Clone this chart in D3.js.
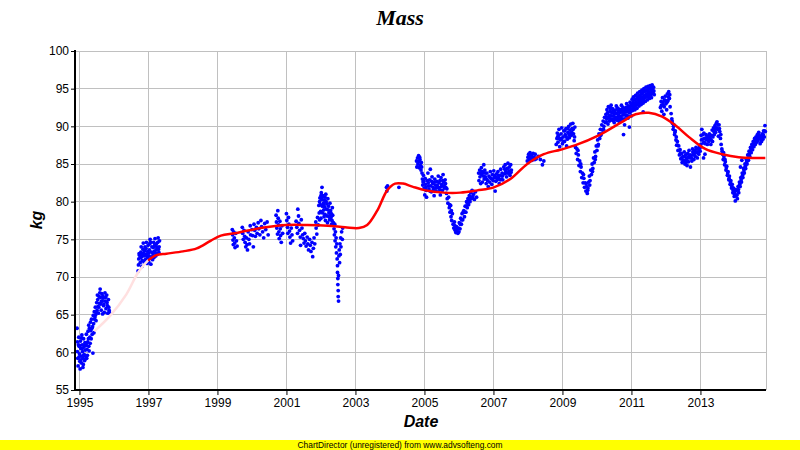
<!DOCTYPE html>
<html>
<head>
<meta charset="utf-8">
<script src="https://cdn.jsdelivr.net/npm/d3@7"></script>
<style>
body { margin: 0; background: #fff; }
</style>
</head>
<body>
<div class="mass-plot"></div>
<script>
// tick values
const yTicks = [55, 60, 65, 70, 75, 80, 85, 90, 95, 100];
const xTicks = [1995, 1997, 1999, 2001, 2003, 2005, 2007, 2009, 2011, 2013];

const seg1995 = [
[1994.93,63.2],[1994.94,61.4],[1994.94,60.1],[1994.95,59.2],[1994.96,58.2],
[1994.98,62.0],[1994.99,60.8],[1995.00,59.8],[1995.01,58.8],[1995.02,57.8],
[1995.03,61.5],[1995.04,60.5],[1995.05,59.5],[1995.06,58.6],[1995.07,62.3],
[1995.08,61.0],[1995.09,60.1],[1995.10,59.2],[1995.11,58.4],[1995.12,61.8],
[1995.13,60.7],[1995.14,59.7],[1995.15,58.9],[1995.16,61.3],[1995.17,60.3],
[1995.18,59.5],[1995.20,62.4],[1995.21,61.2],[1995.22,60.4],[1995.23,59.6],
[1995.25,62.8],[1995.26,61.8],[1995.27,60.8],[1995.29,63.2],[1995.30,62.0],
[1995.31,61.2],[1995.32,64.0],[1995.33,62.9],[1995.35,64.4],[1995.36,63.2],
[1995.37,62.4],[1995.39,59.9],[1995.40,64.9],[1995.41,63.8],[1995.43,65.4],
[1995.44,64.4],[1995.46,66.0],[1995.47,65.0],[1995.48,64.2],[1995.50,66.6],
[1995.51,65.6],[1995.53,67.0],[1995.54,66.1],[1995.55,65.2],[1995.57,67.4],
[1995.58,66.5],[1995.60,68.4],[1995.61,67.3],[1995.62,66.4],[1995.63,65.6],
[1995.65,67.8],[1995.66,66.8],[1995.67,65.1],[1995.69,67.2],[1995.70,66.2],
[1995.72,65.3],[1995.74,67.9],[1995.75,66.8],[1995.77,65.8],[1995.79,67.6],
[1995.80,66.6],[1995.82,65.2],[1995.84,67.0],[1995.85,66.0],[1995.87,65.3]
];
const fill1995 = [
[1994.97,61.0],[1994.99,59.4],[1995.02,60.9],[1995.04,59.0],[1995.06,61.9],[1995.08,60.5],
[1995.10,58.0],[1995.12,59.6],[1995.14,61.0],[1995.16,59.1],[1995.19,60.9],[1995.21,59.2],
[1995.24,61.4],[1995.27,63.6],[1995.28,60.2],[1995.34,61.8],[1995.38,63.4],[1995.42,62.6],
[1995.45,64.7],[1995.49,65.3],[1995.52,67.6],[1995.56,66.0],[1995.59,67.9],[1995.64,66.8],
[1995.68,67.5],[1995.71,66.4],[1995.76,67.3],[1995.81,66.2],[1995.86,65.6]
];
const seg1997 = [
[1996.70,70.8],[1996.71,71.6],[1996.72,72.4],[1996.73,73.1],
[1996.76,71.9],[1996.77,72.6],[1996.78,73.3],[1996.79,74.0],
[1996.81,71.4],[1996.82,72.2],[1996.83,73.0],[1996.84,73.7],[1996.85,74.5],
[1996.87,72.0],[1996.88,72.8],[1996.89,73.5],
[1996.91,72.3],[1996.92,73.0],[1996.93,73.8],[1996.94,74.6],
[1996.96,71.8],[1996.97,72.6],[1996.98,73.4],[1996.99,74.2],
[1997.01,72.0],[1997.02,72.8],[1997.03,73.6],[1997.04,74.4],[1997.05,75.0],
[1997.07,71.7],[1997.08,72.5],[1997.09,73.3],[1997.10,74.0],
[1997.12,72.3],[1997.13,73.1],[1997.14,73.9],
[1997.16,72.6],[1997.17,73.4],[1997.18,74.2],[1997.19,75.1],
[1997.21,72.8],[1997.22,73.6],[1997.23,74.4],
[1997.25,73.0],[1997.26,73.8],[1997.27,74.6],[1997.28,75.2],
[1997.30,73.3],[1997.31,74.0],[1997.32,74.8],
[1996.74,72.9],[1996.80,72.7],[1996.86,73.2],[1996.90,74.0],[1996.95,73.0],[1997.00,73.2],
[1997.06,74.6],[1997.11,72.7],[1997.15,74.6],[1997.20,73.2],[1997.24,74.0],[1997.29,73.7]
];
const seg2000 = [
[1999.43,76.3],[1999.44,75.6],[1999.45,74.9],[1999.46,74.3],[1999.47,76.0],[1999.49,75.2],
[1999.50,74.5],[1999.51,73.9],[1999.53,75.8],[1999.55,74.8],[1999.57,74.1],
[1999.72,76.6],[1999.73,75.8],[1999.75,75.0],[1999.77,76.2],[1999.79,75.4],[1999.80,74.6],
[1999.82,74.0],[1999.84,75.2],[1999.86,74.3],[1999.87,73.6],[1999.89,76.0],[1999.91,75.0],
[1999.93,74.4],[1999.95,76.8],[1999.96,75.6],
[2000.00,76.3],[2000.02,75.5],[2000.04,74.0],[2000.06,77.0],[2000.08,76.2],[2000.10,75.4],
[2000.13,76.6],[2000.15,75.8],[2000.18,77.2],[2000.20,76.4],[2000.23,75.6],[2000.26,77.5],
[2000.28,76.7],[2000.31,76.0],[2000.34,75.2],[2000.37,77.1],[2000.40,76.3],[2000.44,77.3],
[2000.47,75.6],
[2000.70,78.2],[2000.71,77.3],[2000.72,76.5],[2000.74,75.7],[2000.75,78.8],[2000.76,77.8],
[2000.77,76.9],[2000.78,76.0],[2000.79,75.1],[2000.81,77.4],[2000.82,76.4],[2000.83,75.5],
[2000.85,74.6],[2000.87,76.8],[2000.89,75.8],
[2001.00,78.4],[2001.01,77.5],[2001.03,76.6],[2001.04,75.8],[2001.06,77.9],[2001.07,77.0],
[2001.09,76.1],[2001.10,75.3],[2001.12,74.5],[2001.14,76.5],[2001.16,75.6],[2001.18,74.8],
[2001.28,77.4],[2001.30,76.6],[2001.32,75.8],[2001.33,79.0],[2001.35,78.1],[2001.36,77.1],
[2001.38,76.2],[2001.40,75.3],[2001.41,74.2],[2001.43,77.6],[2001.45,76.5],[2001.47,75.6],
[2001.49,75.1],[2001.51,74.5],[2001.53,75.8],[2001.55,74.8],[2001.57,74.1],[2001.60,75.3],
[2001.62,74.4],[2001.64,73.6],[2001.67,75.0],[2001.69,74.2],[2001.71,73.4],[2001.74,74.6],
[2001.76,72.7],[2001.78,73.8],[2001.80,75.2],[2001.82,74.4],
[2001.85,77.3],[2001.86,76.5],[2001.88,75.7],[2001.90,77.9],[2001.92,76.9],
[2001.94,79.5],[2001.95,78.5],[2001.96,77.6],[2001.97,80.5],[2001.98,79.6],[2001.99,78.7],
[2002.00,77.8],[2002.01,81.2],[2002.02,80.3],[2002.03,81.9],[2002.04,79.4],[2002.05,78.5],
[2002.06,80.8],[2002.07,79.8],[2002.08,78.9],[2002.09,78.0],[2002.10,80.2],[2002.11,79.3],
[2002.12,78.3],[2002.13,77.5],[2002.14,81.0],[2002.15,80.0],[2002.16,79.0],[2002.18,78.1],
[2002.19,77.2],[2002.20,80.4],[2002.22,79.4],[2002.23,78.5],[2002.25,77.6],[2002.26,79.8],
[2002.28,78.8],[2002.29,77.9],[2002.31,77.0],[2002.33,79.2],[2002.34,78.2],[2002.36,77.2],
[2002.38,76.4],[2002.39,75.6],[2002.40,77.0],[2002.41,74.8],[2002.42,76.0],[2002.43,74.0],
[2002.44,75.2],[2002.45,73.2],[2002.46,74.4],[2002.47,72.4],[2002.48,71.5],[2002.48,70.6],
[2002.49,69.8],[2002.49,69.0],[2002.50,68.2],[2002.50,67.4],[2002.51,66.8],[2002.51,70.2],
[2002.52,72.8],[2002.53,73.6],[2002.54,71.9],[2002.55,74.4],[2002.56,73.0],[2002.57,75.2],
[2002.58,74.0],[2002.60,76.0],[2002.62,75.0],[2002.63,76.5],
[2001.96,80.0],[2002.00,80.8],[2002.04,80.6],[2002.08,79.6],[2002.12,80.6],[2002.17,79.7],
[2002.21,78.9],[2002.24,78.0],[2002.27,78.2],[2002.30,78.4],[2002.32,77.5]
];
const seg2004 = [[2003.90,81.9],[2003.91,81.4],[2003.93,82.1],[2004.26,81.9]];
const seg2005 = [
[2004.77,85.4],[2004.78,84.6],[2004.80,85.8],[2004.81,85.0],[2004.83,86.1],[2004.84,85.3],
[2004.85,84.5],[2004.87,85.6],[2004.88,84.8],[2004.90,84.2],[2004.91,85.2],
[2004.93,83.8],[2004.94,83.0],[2004.95,82.2],[2004.97,83.5],[2004.98,82.7],[2004.99,81.8],
[2005.01,80.9],[2005.02,83.1],[2005.03,82.3],[2005.05,81.5],[2005.06,80.6],[2005.08,82.8],
[2005.10,83.8],[2005.11,82.5],[2005.13,81.7],[2005.15,82.9],[2005.17,84.3],[2005.18,82.1],
[2005.20,81.3],[2005.22,83.3],[2005.24,82.4],[2005.26,81.6],[2005.28,80.8],[2005.30,83.0],
[2005.32,82.2],[2005.34,81.4],[2005.36,82.7],[2005.38,81.9],[2005.40,83.4],[2005.42,82.5],
[2005.44,81.6],[2005.46,80.9],[2005.48,83.2],[2005.50,82.3],[2005.52,81.5],[2005.54,83.6],
[2005.56,82.6],[2005.58,81.8],[2005.60,82.9],[2005.62,81.9],[2005.64,81.1],
[2005.66,80.4],[2005.68,79.8],[2005.70,80.6],[2005.72,79.2],[2005.74,78.6],[2005.76,79.5],
[2005.77,78.0],[2005.79,77.5],[2005.81,78.4],
[2005.83,77.0],[2005.85,76.5],[2005.87,77.3],[2005.89,76.2],[2005.91,75.9],[2005.93,76.7],
[2005.95,76.0],[2005.97,75.8],[2005.99,76.5],[2006.01,77.2],[2006.03,76.4],[2006.05,77.8],
[2006.07,77.0],[2006.09,78.4],[2006.11,77.6],
[2006.14,78.8],[2006.16,78.0],[2006.18,79.4],[2006.20,78.6],[2006.22,80.0],[2006.24,79.2],
[2006.26,80.4],[2006.28,79.6],[2006.30,80.8],[2006.32,80.0],[2006.34,81.2],[2006.36,80.4],
[2006.38,81.5],[2006.40,80.7],[2006.42,81.0],[2006.45,80.3],[2006.48,81.3],[2006.51,80.6],
[2006.57,83.8],[2006.58,82.8],[2006.60,84.2],[2006.61,83.3],[2006.63,82.4],[2006.65,84.5],
[2006.66,83.6],[2006.68,82.6],[2006.70,83.9],[2006.72,84.9],[2006.73,83.0],[2006.75,84.2],
[2006.77,83.3],[2006.79,82.4],[2006.81,83.8],[2006.83,82.8],[2006.85,82.0],
[2006.87,83.4],[2006.89,82.6],[2006.91,84.0],[2006.93,83.1],[2006.95,82.3],[2006.97,83.6],
[2006.99,82.8],[2007.01,84.1],[2007.03,83.2],[2007.05,81.4],[2007.07,82.7],[2007.09,83.7],
[2007.11,82.9],[2007.13,84.0],[2007.15,83.1],[2007.17,82.4],[2007.19,83.5],[2007.21,84.3],
[2007.23,83.0],[2007.25,83.8],[2007.27,82.9],
[2007.30,84.6],[2007.32,83.7],[2007.34,84.9],[2007.36,84.0],[2007.38,83.3],[2007.40,84.4],
[2007.42,85.1],[2007.44,83.8],[2007.46,84.6],[2007.48,83.5],[2007.50,84.9],[2007.52,84.2],
[2007.98,85.4],[2008.00,85.9],[2008.02,86.3],[2008.04,85.6],[2008.06,86.5],[2008.08,85.8],
[2008.10,86.2],[2008.12,85.5],[2008.15,86.4],[2008.18,85.9],[2008.21,86.3],[2008.24,85.7],
[2008.30,86.0],[2008.36,85.6],[2008.42,84.9],[2008.46,85.4]
];
const fill2005 = [
[2004.86,85.9],[2004.92,84.6],[2004.96,82.6],[2005.04,81.9],[2005.12,82.1],[2005.16,81.4],
[2005.21,82.7],[2005.25,81.9],[2005.29,82.6],[2005.33,81.8],[2005.37,82.2],[2005.41,81.9],
[2005.45,82.8],[2005.49,82.0],[2005.53,82.8],[2005.57,82.1],[2005.61,82.4],[2005.65,81.7],
[2005.73,79.6],[2005.78,78.8],[2005.88,76.8],[2005.92,76.4],[2005.96,76.4],[2006.00,76.0],
[2006.04,77.0],[2006.08,77.6],[2006.12,78.6],[2006.17,78.6],[2006.21,79.4],[2006.25,79.8],
[2006.29,80.2],[2006.33,80.6],[2006.62,83.8],[2006.67,84.0],[2006.71,83.4],[2006.76,83.8],
[2006.80,83.0],[2006.90,83.2],[2006.96,83.0],[2007.02,83.5],[2007.08,83.2],[2007.14,83.5],
[2007.20,82.9],[2007.26,83.4],[2007.33,84.3],[2007.39,83.8],[2007.45,84.1],[2007.51,83.9],
[2008.05,86.0],[2008.13,85.9],[2008.20,85.6]
];
const seg2009 = [
[2008.82,87.6],[2008.84,88.4],[2008.85,89.1],[2008.87,87.9],[2008.89,88.8],[2008.90,89.6],
[2008.92,87.3],[2008.94,88.2],[2008.96,89.0],[2008.98,89.8],[2009.00,87.7],[2009.02,88.6],
[2009.04,89.4],[2009.06,88.0],[2009.08,88.9],[2009.10,89.7],[2009.12,87.4],[2009.14,88.3],
[2009.16,89.2],[2009.18,90.0],[2009.20,88.5],[2009.22,89.5],[2009.24,90.3],[2009.26,88.8],
[2009.28,89.7],[2009.30,90.4],[2009.32,89.0],[2009.34,88.1],[2009.36,89.9],
[2009.38,87.2],[2009.40,86.4],[2009.42,87.0],[2009.44,85.6],[2009.46,86.2],[2009.48,84.8],
[2009.50,85.4],[2009.52,84.0],[2009.54,84.6],[2009.56,83.2],[2009.58,83.8],[2009.60,82.5],
[2009.62,83.1],[2009.64,81.9],[2009.66,82.5],[2009.68,81.4],[2009.70,82.0],[2009.72,81.1],
[2009.74,81.8],
[2009.76,82.6],[2009.78,83.4],[2009.80,82.8],[2009.82,84.2],[2009.84,83.6],[2009.86,85.0],
[2009.88,84.4],[2009.90,85.8],[2009.92,85.2],[2009.94,86.6],[2009.96,86.0],[2009.98,87.4],
[2010.00,86.8],[2010.02,88.2],[2010.04,87.6],[2010.06,89.0],[2010.08,88.4],[2010.10,89.6],
[2010.12,89.0],[2010.14,90.2],[2010.16,89.5],[2010.18,90.7],[2010.20,90.0],[2010.22,91.2],
[2010.24,90.5],
[2010.26,91.6],[2010.27,90.6],[2010.29,92.2],[2010.30,91.2],[2010.32,90.3],[2010.33,92.6],
[2010.35,91.5],[2010.36,90.7],[2010.38,92.0],[2010.40,91.0],[2010.41,92.8],[2010.43,91.8],
[2010.45,90.8],[2010.46,92.3],[2010.48,91.4],[2010.50,90.5],[2010.52,92.1],[2010.54,91.2],
[2010.56,92.7],[2010.57,91.7],[2010.59,90.8],[2010.61,92.4],[2010.63,91.5],[2010.65,90.6],
[2010.67,92.2],[2010.69,91.3],[2010.71,92.8],[2010.72,91.9],[2010.74,91.0],[2010.76,92.5],
[2010.77,88.9],[2010.78,91.6],[2010.80,90.2],[2010.82,92.3],[2010.84,91.4],[2010.86,93.0],
[2010.88,92.0],[2010.90,91.1],[2010.92,92.7],[2010.94,89.9],[2010.94,91.8],[2010.96,93.2],
[2010.98,92.3],[2011.00,91.4],
[2011.02,93.6],[2011.04,92.6],[2011.06,93.9],[2011.08,93.0],[2011.10,92.2],[2011.12,94.1],
[2011.14,93.2],[2011.16,92.4],[2011.18,94.4],[2011.20,93.5],[2011.22,92.7],[2011.24,94.6],
[2011.26,93.7],[2011.28,92.9],[2011.30,94.8],[2011.32,93.9],[2011.34,91.9],[2011.34,93.1],
[2011.36,95.0],[2011.38,94.1],[2011.40,93.3],[2011.42,95.2],[2011.44,94.3],[2011.46,93.5],
[2011.48,95.3],[2011.50,94.5],[2011.52,93.7],[2011.54,95.4],[2011.56,94.6],[2011.58,93.8],
[2011.60,95.5],[2011.62,94.7],[2011.64,95.2],[2011.66,94.2],
[2011.84,92.5],[2011.86,93.3],[2011.88,92.0],[2011.90,93.8],[2011.92,92.8],[2011.94,91.6],
[2011.96,93.5],[2011.98,94.0],[2012.00,93.0],[2012.02,92.2],[2012.04,94.3],[2012.06,93.4],
[2012.08,94.6],[2012.10,93.7],[2012.12,92.6],
[2012.15,91.7],[2012.17,91.0],[2012.19,90.4],[2012.21,89.6],[2012.23,90.2],[2012.25,88.9],
[2012.27,89.4],[2012.29,88.2],[2012.31,87.5],[2012.33,88.0],[2012.35,86.8],[2012.37,87.4],
[2012.39,86.2],[2012.41,86.9],[2012.43,85.7],[2012.45,86.4],
[2012.47,85.2],[2012.49,86.0],[2012.51,85.5],[2012.53,86.6],[2012.55,85.0],[2012.57,86.2],
[2012.59,85.6],[2012.61,84.8],[2012.63,86.4],[2012.65,85.3],[2012.67,86.8],[2012.69,85.8],
[2012.71,84.6],[2012.73,86.1],[2012.75,85.4],[2012.77,87.0],[2012.79,86.3],[2012.81,85.6],
[2012.83,86.8],[2012.85,86.0],[2012.87,87.2],[2012.89,86.5],[2012.91,85.8],[2012.93,87.0],
[2012.95,86.3],[2012.97,87.4],[2012.99,86.7],[2013.01,87.6],
[2013.02,88.8],[2013.04,89.6],[2013.06,88.3],[2013.08,87.8],[2013.09,85.8],[2013.10,89.1],
[2013.12,88.4],[2013.13,86.3],[2013.14,87.7],[2013.16,88.9],[2013.18,88.2],[2013.20,87.6],
[2013.22,88.7],[2013.24,88.0],[2013.26,89.0],[2013.28,88.3],[2013.30,87.6],[2013.32,88.8],
[2013.34,89.5],[2013.36,88.6],[2013.38,89.8],[2013.40,88.9],[2013.42,90.1],[2013.44,89.2],
[2013.46,90.4],[2013.48,90.6],[2013.50,89.6],[2013.52,88.7],[2013.54,90.2],[2013.56,89.3],
[2013.58,88.4],[2013.60,87.6],
[2013.62,87.0],[2013.64,86.3],[2013.66,85.6],[2013.68,86.0],[2013.70,84.9],[2013.72,85.3],
[2013.74,84.2],[2013.76,84.7],[2013.78,83.5],[2013.80,84.0],[2013.82,82.9],[2013.84,83.4],
[2013.86,82.3],[2013.88,82.8],[2013.90,81.8],[2013.92,82.3],[2013.94,81.2],[2013.96,81.8],
[2013.98,80.7],[2014.00,81.3],[2014.01,80.1],[2014.03,80.8],[2014.05,81.5],[2014.07,80.4],
[2014.09,82.0],[2014.11,81.2],[2014.13,82.6],
[2014.15,82.0],[2014.16,84.6],[2014.17,83.2],[2014.19,82.6],[2014.20,85.5],[2014.21,83.8],
[2014.23,83.2],[2014.25,84.4],[2014.27,83.8],[2014.29,85.0],[2014.31,84.4],[2014.33,85.6],
[2014.35,85.0],[2014.37,86.2],[2014.39,85.5],[2014.41,86.7],[2014.43,86.0],[2014.45,87.2],
[2014.47,86.5],[2014.49,87.6],[2014.51,86.9],[2014.53,88.0],[2014.55,87.3],[2014.57,88.4],
[2014.59,87.6],[2014.61,88.6],[2014.63,87.9],[2014.65,88.9],[2014.67,88.1],[2014.69,89.2],
[2014.71,88.4],[2014.73,87.7],[2014.75,88.7],[2014.77,88.0],[2014.79,89.0],[2014.81,88.3],
[2014.83,89.4],[2014.85,88.6],[2014.87,90.1],[2014.88,89.3]
];
const fill2009 = [
[2008.86,88.6],[2008.91,88.4],[2008.97,88.4],[2009.03,88.0],[2009.07,89.4],[2009.11,88.6],
[2009.15,89.7],[2009.19,88.9],[2009.23,89.0],[2009.27,89.2],[2009.31,89.6],[2009.35,88.6],
[2009.45,86.8],[2009.53,85.0],[2009.61,83.6],[2009.69,82.4],[2009.73,81.5],[2009.79,82.2],
[2009.87,84.0],[2009.95,85.6],[2010.03,87.4],[2010.11,88.8],[2010.19,89.6],[2010.28,91.0],
[2010.31,91.8],[2010.34,91.1],[2010.37,91.4],[2010.39,92.4],[2010.42,91.4],[2010.44,92.3],
[2010.47,91.0],[2010.49,92.0],[2010.51,91.7],[2010.53,90.9],[2010.55,91.7],[2010.58,92.3],
[2010.60,91.2],[2010.62,92.0],[2010.64,91.0],[2010.66,91.8],[2010.68,90.9],[2010.70,92.0],
[2010.73,92.3],[2010.75,91.5],[2010.79,92.0],[2010.81,91.0],[2010.83,91.9],[2010.85,92.5],
[2010.87,91.5],[2010.89,92.5],[2010.91,92.2],[2010.93,91.3],[2010.95,92.4],[2010.97,91.9],
[2010.99,92.8],[2011.01,92.9],[2011.03,92.1],[2011.05,93.2],[2011.07,92.4],[2011.09,93.5],
[2011.11,92.7],[2011.13,93.6],[2011.15,92.9],[2011.17,93.8],[2011.19,93.0],[2011.21,94.0],
[2011.23,93.2],[2011.25,94.1],[2011.27,93.3],[2011.29,94.3],[2011.31,93.4],[2011.33,94.5],
[2011.35,93.6],[2011.37,94.6],[2011.39,93.8],[2011.41,94.7],[2011.43,93.9],[2011.45,94.8],
[2011.47,94.0],[2011.49,94.9],[2011.51,94.1],[2011.53,95.0],[2011.55,94.2],[2011.57,95.1],
[2011.59,94.3],[2011.61,95.0],[2011.63,94.4],[2011.65,94.7],
[2011.87,92.8],[2011.91,93.2],[2011.95,92.6],[2011.99,93.4],[2012.03,93.2],[2012.07,93.9],
[2012.11,94.2],[2012.18,90.7],[2012.22,90.0],[2012.26,89.2],[2012.30,88.6],[2012.34,87.5],
[2012.38,86.8],[2012.42,86.4],[2012.46,85.8],[2012.50,85.4],[2012.54,86.0],[2012.58,85.2],
[2012.62,85.8],[2012.66,86.0],[2012.70,86.2],[2012.74,85.8],[2012.78,86.6],[2012.82,86.2],
[2012.86,86.6],[2012.90,87.0],[2012.94,86.6],[2012.98,87.1],[2013.03,88.2],[2013.07,88.9],
[2013.11,87.9],[2013.15,88.4],[2013.19,88.6],[2013.23,88.3],[2013.27,88.6],[2013.31,88.2],
[2013.35,88.0],[2013.39,89.3],[2013.43,89.6],[2013.47,89.8],[2013.51,90.2],[2013.55,89.7],
[2013.59,88.9],[2013.63,86.7],[2013.67,86.5],[2013.71,85.6],[2013.75,84.5],[2013.79,83.8],
[2013.83,83.1],[2013.87,82.6],[2013.91,82.0],[2013.95,81.5],[2013.99,81.0],[2014.02,81.6],
[2014.06,80.9],[2014.10,81.6],[2014.14,82.3],[2014.18,82.9],[2014.22,83.5],[2014.26,84.1],
[2014.30,84.7],[2014.34,85.3],[2014.38,85.8],[2014.42,86.4],[2014.46,86.8],[2014.50,87.3],
[2014.54,87.6],[2014.58,88.0],[2014.62,88.2],[2014.66,88.5],[2014.70,88.8],[2014.74,88.4],
[2014.78,88.5],[2014.82,88.9],[2014.86,89.4]
];

// smoothed trend (faint part spans the data gap)
const trendFaint = [[1995.43,62.8],[1995.88,64.8],[1996.36,67.7],[1996.70,70.6],[1996.99,72.2]];
const trendMain = [
[1996.99,72.2],[1997.23,72.9],[1997.52,73.1],[1998.0,73.4],[1998.4,73.8],[1998.8,74.8],
[1999.1,75.5],[1999.5,75.8],[1999.8,76.1],[2000.4,76.6],[2001.0,76.9],[2001.6,76.9],
[2002.2,76.8],[2002.7,76.6],[2003.1,76.5],[2003.34,76.9],[2003.63,78.8],[2003.92,81.5],
[2004.15,82.4],[2004.38,82.4],[2004.65,82.0],[2005.03,81.5],[2005.56,81.2],[2006.04,81.2],
[2006.53,81.5],[2007.01,81.9],[2007.49,83.0],[2007.98,85.0],[2008.46,86.3],[2008.94,86.9],
[2009.38,87.5],[2010.05,88.8],[2010.73,90.6],[2011.12,91.6],[2011.50,91.8],[2011.89,91.3],
[2012.28,90.1],[2012.66,88.6],[2013.14,87.0],[2013.63,86.3],[2014.11,85.9],[2014.59,85.8],
[2014.88,85.8]
];

const width = 800;
const height = 450;
const svg = d3.select('.mass-plot')
	.append('svg')
	.attr('width', width)
	.attr('height', height)
	.style('display', 'block');

const x = d3.scaleLinear().domain([1994.9, 2014.9]).range([76, 766]);
const y = d3.scaleLinear().domain([55, 100]).range([390, 51]);

// grid
svg.selectAll('.hgrid')
	.data(yTicks)
	.enter()
	.append('line')
	.attr('class', 'hgrid')
	.attr('x1', 76).attr('x2', 766)
	.attr('y1', d => y(d)).attr('y2', d => y(d))
	.attr('stroke', '#c0c0c0')
	.attr('shape-rendering', 'crispEdges');
svg.selectAll('.vgrid')
	.data(xTicks.concat([2014.9]))
	.enter()
	.append('line')
	.attr('class', 'vgrid')
	.attr('x1', d => Math.round(x(d)) + 0.5).attr('x2', d => Math.round(x(d)) + 0.5)
	.attr('y1', 51).attr('y2', 390)
	.attr('stroke', '#c0c0c0');

// scatter
const points = seg1995.concat(fill1995, seg1997, seg2000, seg2004, seg2005, fill2005, seg2009, fill2009);
svg.append('g')
	.selectAll('circle')
	.data(points)
	.enter()
	.append('circle')
	.attr('cx', d => x(d[0]))
	.attr('cy', d => y(d[1]))
	.attr('r', 1.9)
	.attr('fill', '#0000ff');

// trend lines
const line = d3.line()
	.x(d => x(d[0]))
	.y(d => y(d[1]))
	.curve(d3.curveCatmullRom);
svg.append('path')
	.attr('d', line(trendFaint))
	.attr('fill', 'none')
	.attr('stroke', '#ffe0e0')
	.attr('stroke-width', 2.5);
svg.append('path')
	.attr('d', line(trendMain))
	.attr('fill', 'none')
	.attr('stroke', '#ff0000')
	.attr('stroke-width', 2.5);

// axes
const yAxis = svg.append('g')
	.attr('transform', 'translate(75,0)')
	.call(d3.axisLeft(y).tickValues(yTicks).tickSize(4).tickSizeOuter(0).tickPadding(2));
const xAxis = svg.append('g')
	.attr('transform', 'translate(0,390)')
	.call(d3.axisBottom(x).tickValues(xTicks).tickFormat(d => d).tickSize(5).tickSizeOuter(0).tickPadding(3));
[yAxis, xAxis].forEach(g => {
	g.select('.domain').remove();
	g.selectAll('text')
		.attr('fill', '#000')
		.style('font-family', 'Liberation Sans, Arial, sans-serif')
		.style('font-size', '12px');
	g.selectAll('line').attr('stroke', '#000');
});
svg.append('line')
	.attr('x1', 75).attr('x2', 75).attr('y1', 50).attr('y2', 391)
	.attr('stroke', '#000').attr('stroke-width', 2);
svg.append('line')
	.attr('x1', 74).attr('x2', 766).attr('y1', 390).attr('y2', 390)
	.attr('stroke', '#000').attr('stroke-width', 2);

// titles
svg.append('text')
	.attr('x', 400).attr('y', 25)
	.attr('text-anchor', 'middle')
	.style('font-family', 'Liberation Serif, Times New Roman, serif')
	.style('font-weight', 'bold')
	.style('font-style', 'italic')
	.style('font-size', '22px')
	.text('Mass');
svg.append('text')
	.attr('transform', 'translate(42,220) rotate(-90)')
	.attr('text-anchor', 'middle')
	.style('font-family', 'Liberation Sans, Arial, sans-serif')
	.style('font-weight', 'bold')
	.style('font-style', 'italic')
	.style('font-size', '16px')
	.text('kg');
svg.append('text')
	.attr('x', 421).attr('y', 427)
	.attr('text-anchor', 'middle')
	.style('font-family', 'Liberation Sans, Arial, sans-serif')
	.style('font-weight', 'bold')
	.style('font-style', 'italic')
	.style('font-size', '16px')
	.text('Date');

// footer
svg.append('rect')
	.attr('x', 0).attr('y', 440).attr('width', 800).attr('height', 10)
	.attr('fill', '#ffff00');
svg.append('text')
	.attr('x', 400).attr('y', 448)
	.attr('text-anchor', 'middle')
	.attr('textLength', 205)
	.attr('lengthAdjust', 'spacingAndGlyphs')
	.style('font-family', 'Liberation Sans, Arial, sans-serif')
	.style('font-size', '9px')
	.text('ChartDirector (unregistered) from www.advsofteng.com');
</script>
</body>
</html>
